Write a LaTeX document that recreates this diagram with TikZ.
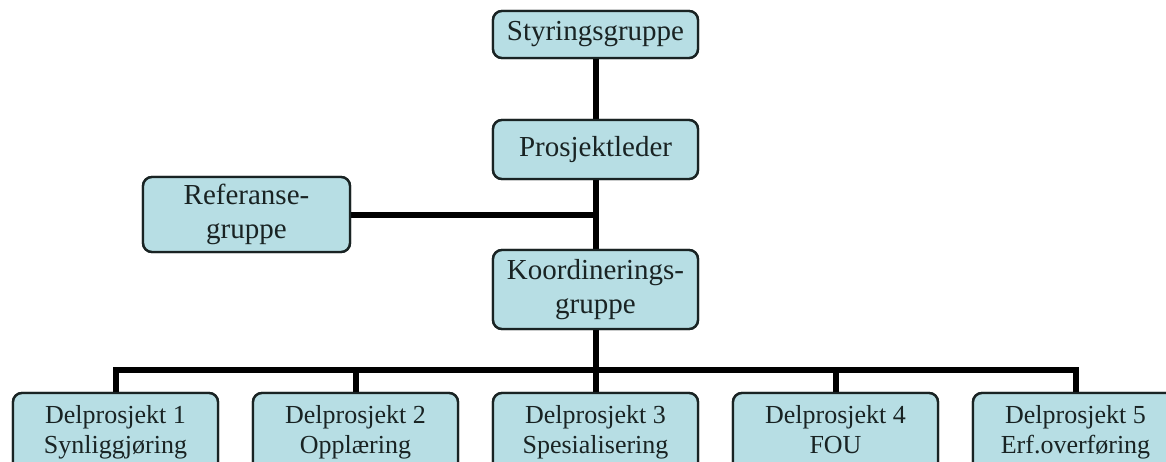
\documentclass[tikz,border=0pt]{standalone}
\usepackage{fontspec}
\setmainfont{Liberation Serif}
\definecolor{boxfill}{RGB}{183,222,228}
\definecolor{ink}{RGB}{25,35,35}
\tikzset{
  orgbox/.style={draw=ink, fill=boxfill, line width=2.4pt, rounded corners=9pt,
    minimum width=205pt, align=center, inner sep=0pt, text=ink},
  topfont/.style={font=\fontsize{29pt}{34pt}\selectfont},
  subfont/.style={font=\fontsize{26pt}{30pt}\selectfont},
  link/.style={line width=6pt, draw=black}
}
\newcommand{\boxes}{%
\path
  (595.5,34.5) node[orgbox,topfont,minimum height=47pt] (sty) {Styringsgruppe}
  (595.5,149.5) node[orgbox,topfont,minimum height=59pt] (pro) {Prosjektleder}
  (246.5,214.5) node[orgbox,topfont,minimum height=75pt,minimum width=207pt] (ref) {\strut Referanse-\\\strut gruppe}
  (595.5,289.5) node[orgbox,topfont,minimum height=79pt] (koo) {\strut Koordinerings-\\\strut gruppe};
\path
  (115.5,432.5) node[orgbox,subfont,minimum height=79pt] (d1) {\strut Delprosjekt 1\\\strut Synliggjøring}
  (355.5,432.5) node[orgbox,subfont,minimum height=79pt] (d2) {\strut Delprosjekt 2\\\strut Opplæring}
  (595.5,432.5) node[orgbox,subfont,minimum height=79pt] (d3) {\strut Delprosjekt 3\\\strut Spesialisering}
  (835.5,432.5) node[orgbox,subfont,minimum height=79pt] (d4) {\strut Delprosjekt 4\\\strut FOU}
  (1075.5,432.5) node[orgbox,subfont,minimum height=79pt] (d5) {\strut Delprosjekt 5\\\strut Erf.overføring};
}
\begin{document}
\begin{tikzpicture}[x=1pt,y=-1pt]
\clip (0,0) rectangle (1166,461);
\useasboundingbox (0,0) rectangle (1166,461);
\boxes
\coordinate (join) at (ref.east -| pro.south);
\coordinate (bus) at (595.5,370);
\coordinate (busL) at (d1.north |- bus);
\coordinate (busR) at (d5.north |- bus);
% connectors
\draw[link] (sty.south) -- (pro.north);
\draw[link] (pro.south) -- (koo.north);
\draw[link] (ref.east) -- (join);
\draw[link] (koo.south) -- (bus);
\draw[link,line cap=rect] (busL) -- (busR);
\draw[link] (busL) -- (d1.north);
\draw[link] (d2.north |- bus) -- (d2.north);
\draw[link] (bus) -- (d3.north);
\draw[link] (d4.north |- bus) -- (d4.north);
\draw[link] (busR) -- (d5.north);
% boxes again on top of the connectors
\boxes
\end{tikzpicture}
\end{document}
